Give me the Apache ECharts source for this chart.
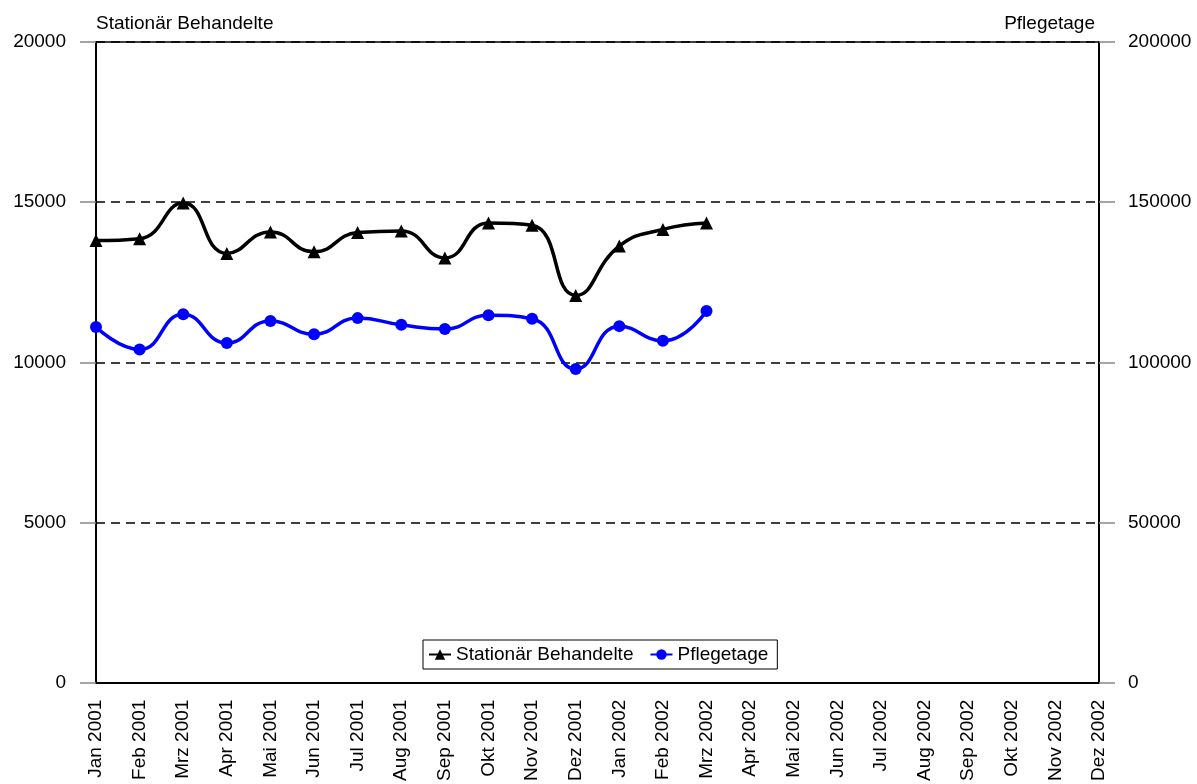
<!DOCTYPE html>
<html>
<head>
<meta charset="utf-8">
<script src="https://cdn.jsdelivr.net/npm/echarts@6/dist/echarts.min.js"></script>
<style>
html,body{margin:0;padding:0;background:#fff;}
#chart{width:1197px;height:784px;}
</style>
</head>
<body>
<div id="chart"></div>
<script>
var categories = ['Jan 2001','Feb 2001','Mrz 2001','Apr 2001','Mai 2001','Jun 2001','Jul 2001','Aug 2001','Sep 2001','Okt 2001','Nov 2001','Dez 2001',
                  'Jan 2002','Feb 2002','Mrz 2002','Apr 2002','Mai 2002','Jun 2002','Jul 2002','Aug 2002','Sep 2002','Okt 2002','Nov 2002','Dez 2002'];
var stationaer = [13800, 13860, 14970, 13400, 14070, 13450, 14050, 14100, 13260, 14350, 14280, 12090, 13630, 14150, 14350];
var pflegetage = [111000, 104000, 115000, 106000, 112900, 108800, 113800, 111700, 110400, 114700, 113600, 97900, 111300, 106700, 116000];
var leftTicks = [0, 5000, 10000, 15000, 20000];
var rightTicks = [0, 50000, 100000, 150000, 200000];

var font = 'Liberation Sans, Arial, sans-serif';
var plain = function (v) { return String(v); };
var chart = echarts.init(document.getElementById('chart'));
chart.setOption({
  backgroundColor: '#fff',
  animation: false,
  grid: {left: 96, right: 98, top: 42, bottom: 101, show: true, borderColor: '#000', borderWidth: 1.5, backgroundColor: 'transparent'},
  legend: {
    left: 423, top: 640,
    backgroundColor: '#fff', borderColor: '#000', borderWidth: 1,
    padding: [5, 9, 5, 5], itemGap: 16, itemWidth: 22, itemHeight: 13,
    textStyle: {fontFamily: font, fontSize: 19, color: '#000'},
    data: ['Stationär Behandelte', 'Pflegetage']
  },
  xAxis: {
    type: 'category', data: categories, boundaryGap: false,
    axisLine: {lineStyle: {color: '#000', width: 2}},
    axisTick: {show: false},
    axisLabel: {rotate: 90, interval: 0, margin: 17, fontFamily: font, fontSize: 19, color: '#000'},
    splitLine: {show: false}
  },
  yAxis: [{
    type: 'value', min: leftTicks[0], max: leftTicks[leftTicks.length - 1], interval: leftTicks[1] - leftTicks[0],
    name: 'Stationär Behandelte', nameLocation: 'end', nameGap: 18,
    nameTextStyle: {fontFamily: font, fontSize: 19, color: '#000', align: 'left', verticalAlign: 'middle'},
    axisLine: {show: true, lineStyle: {color: '#000', width: 2}},
    axisTick: {show: true, inside: false, length: 16, lineStyle: {color: '#888', width: 1.5}},
    axisLabel: {margin: 30, fontFamily: font, fontSize: 19, color: '#000', formatter: plain},
    splitLine: {show: true, lineStyle: {color: '#000', type: [9, 6], width: 1.5}}
  }, {
    type: 'value', min: rightTicks[0], max: rightTicks[rightTicks.length - 1], interval: rightTicks[1] - rightTicks[0],
    position: 'right',
    name: 'Pflegetage', nameLocation: 'end', nameGap: 18,
    nameTextStyle: {fontFamily: font, fontSize: 19, color: '#000', align: 'right', verticalAlign: 'middle', padding: [0, 4, 0, 0]},
    axisLine: {show: true, lineStyle: {color: '#000', width: 2}},
    axisTick: {show: true, inside: false, length: 16, lineStyle: {color: '#888', width: 1.5}},
    axisLabel: {margin: 29, fontFamily: font, fontSize: 19, color: '#000', formatter: plain},
    splitLine: {show: false}
  }],
  series: [{
    name: 'Stationär Behandelte', type: 'line', yAxisIndex: 0, data: stationaer,
    smooth: 0.5, symbol: 'triangle', symbolSize: 13,
    lineStyle: {color: '#000', width: 3.5}, itemStyle: {color: '#000'}, z: 3
  }, {
    name: 'Pflegetage', type: 'line', yAxisIndex: 1, data: pflegetage,
    smooth: 0.5, symbol: 'circle', symbolSize: 12,
    lineStyle: {color: '#0000ff', width: 3.5}, itemStyle: {color: '#0000ff'}, z: 3
  }]
});
</script>
</body>
</html>
